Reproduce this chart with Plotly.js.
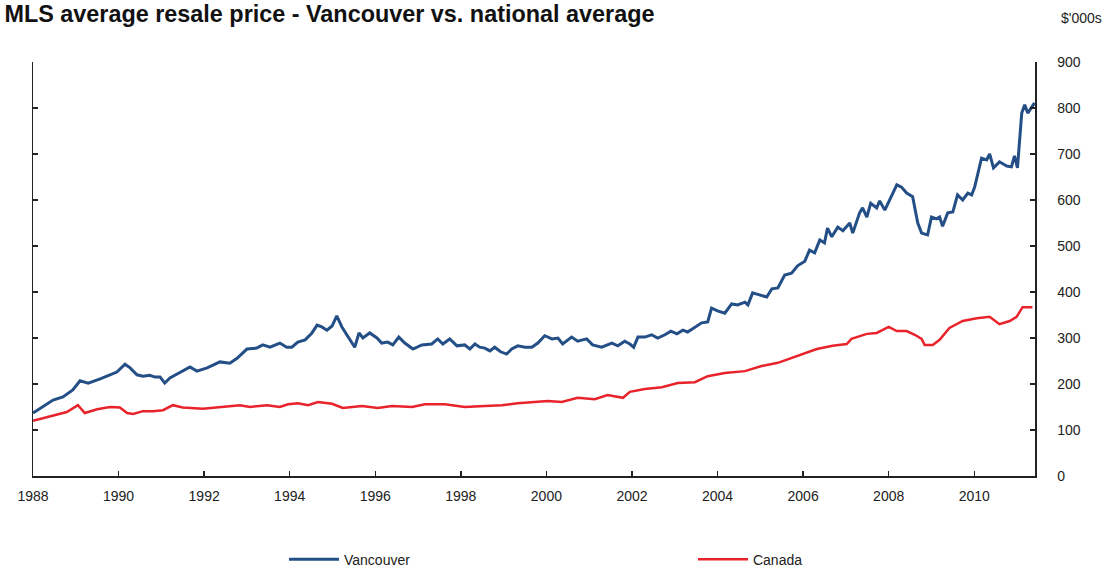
<!DOCTYPE html>
<html>
<head>
<meta charset="utf-8">
<script src="https://cdn.plot.ly/plotly-3.0.1.min.js"></script>
<style>
  html, body { margin: 0; padding: 0; background: #fff; }
  #chart { width: 1105px; height: 570px; }
</style>
</head>
<body>
<div id="chart"></div>
<script>
// Decimal years and values ($'000s)
const vancouverYears = [1988.00,1988.23,1988.47,1988.70,1988.93,1989.10,1989.29,1989.57,1989.80,1989.96,
  1990.15,1990.27,1990.43,1990.57,1990.73,1990.85,1990.97,1991.08,1991.20,1991.43,1991.67,1991.83,
  1992.07,1992.37,1992.60,1992.77,1993.00,1993.23,1993.37,1993.54,1993.77,1993.93,
  1994.05,1994.19,1994.36,1994.52,1994.64,1994.75,1994.87,1994.99,1995.10,1995.22,1995.36,1995.52,1995.62,1995.71,1995.87,
  1996.04,1996.15,1996.29,1996.41,1996.55,1996.69,1996.88,1997.09,1997.32,1997.46,1997.58,1997.74,1997.91,
  1998.09,1998.21,1998.33,1998.44,1998.56,1998.68,1998.79,1998.93,1999.07,1999.19,1999.33,1999.50,1999.66,1999.80,1999.96,
  2000.13,2000.27,2000.38,2000.59,2000.73,2000.94,2001.08,2001.29,2001.53,2001.67,2001.83,2001.95,
  2002.04,2002.14,2002.30,2002.46,2002.60,2002.77,2002.91,2003.05,2003.19,2003.30,2003.47,2003.63,2003.77,2003.86,
  2004.00,2004.17,2004.33,2004.47,2004.64,2004.71,2004.82,2004.99,2005.15,2005.27,2005.41,2005.57,2005.73,2005.87,
  2006.04,2006.15,2006.27,2006.39,2006.50,2006.57,2006.67,2006.81,2006.93,2007.09,2007.16,2007.32,2007.39,2007.49,2007.58,2007.72,2007.79,2007.91,
  2008.02,2008.19,2008.30,2008.42,2008.56,2008.68,2008.77,2008.91,2009.00,2009.12,2009.19,2009.26,2009.38,2009.50,2009.61,2009.73,2009.85,2009.94,
  2010.01,2010.17,2010.29,2010.36,2010.45,2010.59,2010.76,2010.87,2010.94,2011.01,2011.11,2011.18,2011.25,2011.34,2011.41];
const vancouverValues = [137,150,165,172,187,207,202,211,219,226,
  243,235,220,217,219,215,215,202,213,224,237,228,
  235,248,245,256,276,278,285,280,289,280,
  280,291,296,311,328,324,317,326,348,324,302,280,311,300,311,
  300,289,291,285,302,289,276,285,287,298,287,298,283,
  285,276,287,280,278,272,280,270,265,276,283,280,280,289,305,
  298,300,287,302,293,298,285,280,289,283,293,287,
  280,302,302,307,300,307,315,309,317,313,324,333,335,365,
  359,354,374,372,378,372,398,393,389,407,409,437,441,457,
  467,491,485,513,507,539,520,541,533,550,528,572,583,563,593,583,598,578,
  600,633,628,615,607,550,528,524,563,559,563,543,572,574,611,600,615,611,
  628,691,687,700,670,683,674,672,696,670,789,807,789,800,811];

const canadaYears = [1988.00,1988.40,1988.79,1989.05,1989.21,1989.50,1989.80,1990.03,1990.20,1990.34,1990.57,1990.80,
  1991.04,1991.27,1991.50,1991.97,1992.37,1992.84,1993.07,1993.47,1993.77,1993.96,
  1994.19,1994.43,1994.66,1994.99,1995.24,1995.45,1995.69,1996.06,1996.39,1996.86,1997.16,1997.63,
  1998.09,1998.56,1998.96,1999.33,1999.73,2000.03,2000.36,2000.73,2001.13,2001.43,2001.79,2001.95,
  2002.30,2002.70,2003.07,2003.47,2003.77,2004.17,2004.64,2005.03,2005.41,2005.80,2006.15,2006.32,2006.69,
  2007.02,2007.13,2007.49,2007.72,2008.00,2008.19,2008.42,2008.61,2008.77,2008.84,2009.03,2009.19,2009.42,2009.73,
  2010.06,2010.36,2010.59,2010.83,2010.99,2011.13,2011.36];
const canadaValues = [120,130,139,154,137,145,150,149,137,135,141,141,
  143,154,149,146,149,154,150,154,150,156,
  158,154,161,157,148,150,152,148,152,150,156,156,
  150,152,154,158,161,163,161,170,167,176,170,183,
  189,193,202,204,217,224,228,239,246,259,270,276,283,
  287,298,309,311,324,315,315,307,298,285,285,296,322,337,
  343,346,330,337,346,367,367];

const xTickVals = [1988,1990,1992,1994,1996,1998,2000,2002,2004,2006,2008,2010];
const xTickText = ['1988','1990','1992','1994','1996','1998','2000','2002','2004','2006','2008','2010'];
const yTickVals = [0,100,200,300,400,500,600,700,800,900];

const fontFamily = '"Liberation Sans", Arial, sans-serif';

const traces = [
  {
    x: vancouverYears, y: vancouverValues, name: 'Vancouver', type: 'scatter', mode: 'lines',
    line: { color: '#234f86', width: 3 }, legend: 'legend'
  },
  {
    x: canadaYears, y: canadaValues, name: 'Canada', type: 'scatter', mode: 'lines',
    line: { color: '#e8232b', width: 2.5 }, legend: 'legend2'
  }
];

const layout = {
  width: 1105, height: 570,
  margin: { l: 33, r: 70, t: 62, b: 94 },
  paper_bgcolor: '#ffffff', plot_bgcolor: '#ffffff',
  font: { family: fontFamily, size: 14, color: '#222222' },
  title: {
    text: '<b>MLS average resale price - Vancouver vs. national average</b>',
    font: { family: fontFamily, size: 23.4, color: '#111111' },
    xref: 'container', x: 0.004, xanchor: 'left',
    yref: 'container', y: 0.976, yanchor: 'middle'
  },
  xaxis: {
    range: [1988, 2011.42], tickvals: xTickVals, ticktext: xTickText,
    showgrid: false, zeroline: false, showline: true, linecolor: '#222', linewidth: 1.5,
    ticks: 'inside', ticklen: 5, tickwidth: 1.5, tickcolor: '#222',
    ticklabelstandoff: 7, tickfont: { size: 14, color: '#222' }, fixedrange: true
  },
  yaxis: {
    side: 'right', range: [0, 900], tickvals: yTickVals,
    showgrid: false, zeroline: false, showline: true, linecolor: '#222', linewidth: 1.5,
    mirror: 'ticks', ticks: 'inside', ticklen: 5, tickwidth: 1.5, tickcolor: '#222',
    ticklabelstandoff: 18, tickfont: { size: 14, color: '#222' }, fixedrange: true
  },
  showlegend: true,
  legend: {
    orientation: 'h', xref: 'container', yref: 'container',
    x: 0.257, xanchor: 'left', y: 0.018, yanchor: 'middle',
    font: { size: 14, color: '#222' }, itemwidth: 50, bgcolor: 'rgba(0,0,0,0)'
  },
  legend2: {
    orientation: 'h', xref: 'container', yref: 'container',
    x: 0.6271, xanchor: 'left', y: 0.018, yanchor: 'middle',
    font: { size: 14, color: '#222' }, itemwidth: 50, bgcolor: 'rgba(0,0,0,0)'
  },
  annotations: [
    {
      text: "$'000s", xref: 'paper', yref: 'paper', x: 1.024, y: 1.107,
      xanchor: 'left', yanchor: 'middle', showarrow: false,
      font: { size: 14, color: '#222' }
    }
  ]
};

Plotly.newPlot('chart', traces, layout, { displayModeBar: false, staticPlot: true });
</script>
</body>
</html>
